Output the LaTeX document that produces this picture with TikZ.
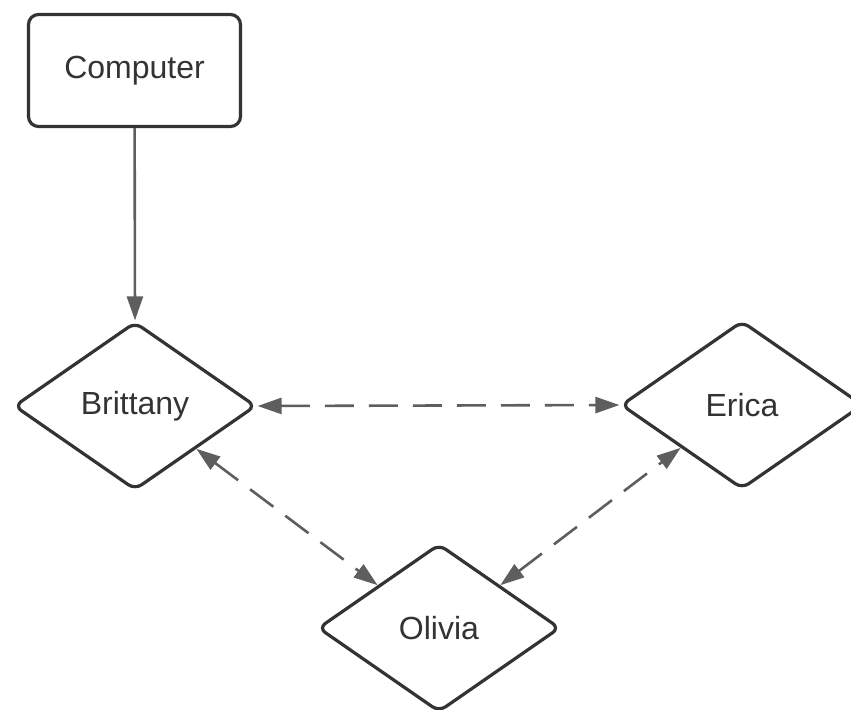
\documentclass[tikz,border=0pt]{standalone}
\usepackage{fontspec}
\setmainfont{Liberation Sans}
\usetikzlibrary{shapes.geometric}
\usetikzlibrary{arrows.meta}
\definecolor{edgegray}{HTML}{333333}
\definecolor{linkgray}{HTML}{5E5E5E}

\begin{document}
\begin{tikzpicture}[x=.5pt, y=-.5pt,
  person/.style={diamond, draw=edgegray, line width=1.6pt, rounded corners=4pt, minimum width=121pt, minimum height=84pt, inner sep=0pt, text=edgegray, font=\fontsize{16}{19}\selectfont},
  device/.style={rectangle, draw=edgegray, line width=1.6pt, rounded corners=5pt, minimum width=106pt, minimum height=56pt, text=edgegray, font=\fontsize{16}{19}\selectfont},
  link/.style={draw=linkgray, line width=1.3pt, -{Triangle[length=12pt, width=8pt]}},
  both/.style={draw=linkgray, line width=1.3pt, {Triangle[length=12pt, width=8pt]}-{Triangle[length=12pt, width=8pt]}, dash pattern=on 14.5pt off 7.5pt}]
\useasboundingbox (0,0) rectangle (851,709);
% boxes
\node[device] (computer) at (134.5,70.5) {Computer};
\node[person] (brittany) at (135,406) {Brittany};
\node[person] (erica) at (742,405) {Erica};
\node[person] (olivia) at (439,628) {Olivia};
% links
\draw[link] (computer) -- (brittany.north);
\draw[both] (brittany.east) -- (erica.west);
\draw[both] (brittany.south east) -- (olivia.north west);
\draw[both] (olivia.north east) -- (erica.south west);
\end{tikzpicture}
\end{document}
